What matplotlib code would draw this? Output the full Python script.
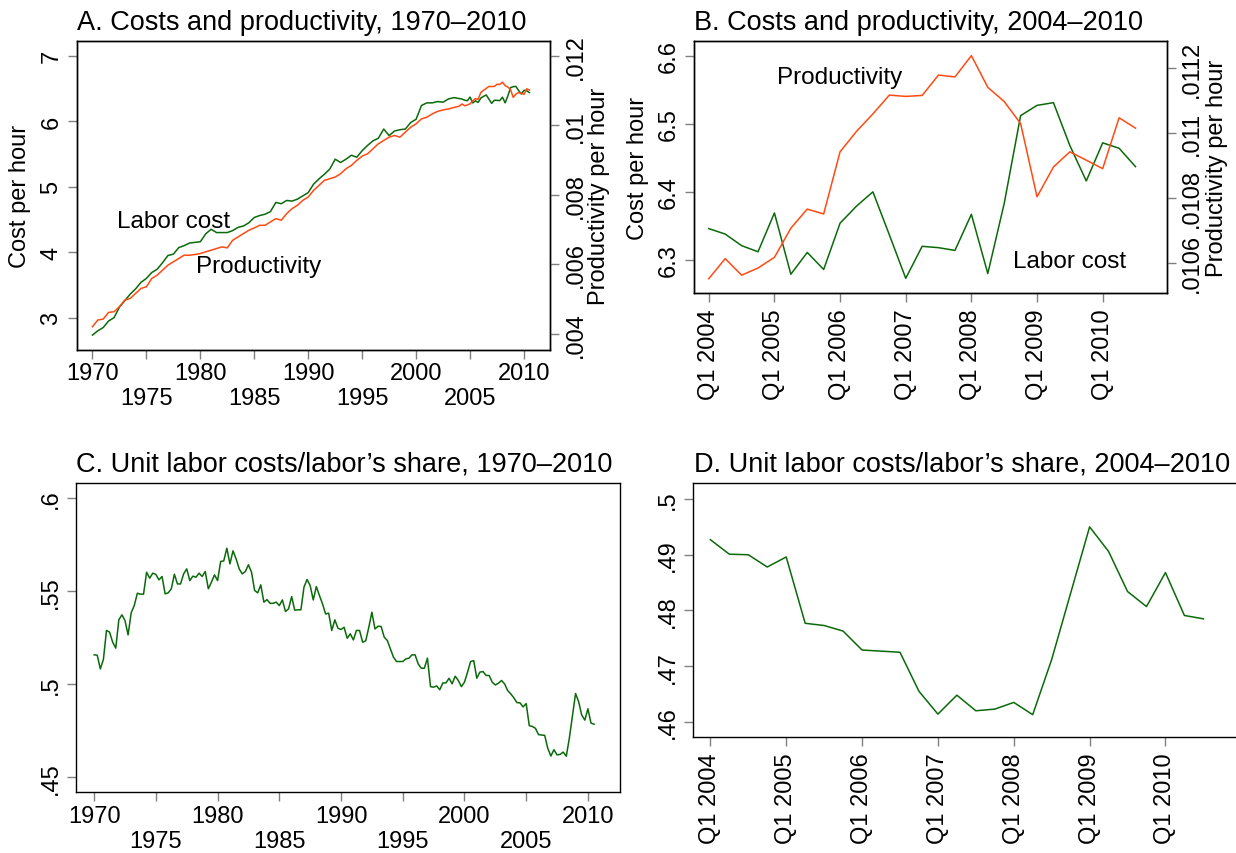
import numpy as np
import matplotlib
matplotlib.use('Agg')
import matplotlib.pyplot as plt

plt.rcParams['font.family'] = ['Liberation Sans', 'DejaVu Sans']

# ---------------- data ----------------
# Panel A: half-yearly readings 1970.0 .. 2003.5 (then quarterly from panel B data)
labor_cost_half = [2.735, 2.80, 2.85, 2.95, 3.00, 3.16, 3.26, 3.36, 3.44, 3.54,
                   3.60, 3.69, 3.74, 3.84, 3.95, 3.97, 4.07, 4.10, 4.14, 4.15,
                   4.16, 4.28, 4.35, 4.30, 4.30, 4.30, 4.33, 4.38, 4.40, 4.45,
                   4.53, 4.56, 4.58, 4.62, 4.76, 4.74, 4.79, 4.78, 4.81, 4.86,
                   4.91, 5.04, 5.12, 5.19, 5.27, 5.42, 5.37, 5.42, 5.48, 5.45,
                   5.55, 5.63, 5.70, 5.74, 5.88, 5.78, 5.85, 5.87, 5.88, 5.98,
                   6.03, 6.24, 6.28, 6.28, 6.30, 6.29, 6.34, 6.36]
productivity_half = [.004210, .004402, .004430, .004621, .004640, .004784, .004975, .005023,
                     .005166, .005310, .005357, .005596, .005692, .005835, .005979, .006074,
                     .006170, .006265, .006265, .006284, .006313, .006361, .006409, .006456,
                     .006504, .006476, .006695, .006791, .006887, .006982, .007049, .007125,
                     .007125, .007221, .007317, .007269, .007460, .007603, .007699, .007842,
                     .007938, .008129, .008273, .008416, .008464, .008511, .008607, .008750,
                     .008846, .008989, .009113, .009180, .009324, .009467, .009563, .009658,
                     .009706, .009658, .009802, .009945, .010041, .010184, .010232, .010327,
                     .010400, .010440, .010470, .010510]

# Quarterly 2004Q1 .. 2010Q3
quarter_labels = ['Q1 2004', 'Q1 2005', 'Q1 2006', 'Q1 2007', 'Q1 2008', 'Q1 2009', 'Q1 2010']
labor_cost_q = [6.346, 6.338, 6.321, 6.312, 6.369, 6.279, 6.311, 6.286, 6.354, 6.379,
                6.400, 6.337, 6.273, 6.320, 6.318, 6.314, 6.367, 6.280, 6.383, 6.512,
                6.527, 6.531, 6.468, 6.416, 6.472, 6.464, 6.437]
productivity_q = [.010550, .010612, .010561, .010583, .010616, .010706, .010765, .010750,
                  .010942, .011005, .011059, .011117, .011113, .011116, .011179, .011173,
                  .011239, .011141, .011097, .011029, .010803, .010895, .010942, .010916,
                  .010890, .011047, .011015]
labor_share_q = [.4927, .4901, .4900, .4878, .4896, .4777, .4773, .4763, .4729, .4727,
                 .4725, .4655, .4614, .4648, .4620, .4623, .4635, .4613, .4712, .4831,
                 .4950, .4906, .4834, .4807, .4868, .4791, .4785]

# Panel C: quarterly 1970Q1 .. 2003Q4 (then the 2004-2010 quarters above)
labor_share_early = [
    .5158, .5156, .5082, .5133, .5289, .5280, .5226, .5194, .5346, .5373, .5342, .5265,
    .5384, .5423, .5489, .5484, .5484, .5602, .5570, .5597, .5590, .5561, .5579, .5486,
    .5491, .5513, .5591, .5539, .5539, .5593, .5620, .5557, .5581, .5575, .5597, .5579,
    .5606, .5513, .5548, .5588, .5557, .5660, .5663, .5731, .5647, .5717, .5674, .5620,
    .5593, .5606, .5642, .5602, .5504, .5491, .5534, .5441, .5455, .5435, .5435, .5441,
    .5423, .5453, .5391, .5405, .5471, .5398, .5400, .5400, .5522, .5563, .5530, .5453,
    .5525, .5477, .5432, .5378, .5382, .5289, .5346, .5301, .5294, .5306, .5247, .5271,
    .5238, .5289, .5289, .5226, .5233, .5306, .5387, .5297, .5312, .5310, .5253, .5235,
    .5190, .5145, .5122, .5122, .5122, .5136, .5140, .5158, .5158, .5109, .5086, .5086,
    .5140, .4987, .4984, .4991, .4970, .5007, .5007, .5032, .5002, .5043, .5020, .4987,
    .5011, .5065, .5122, .5127, .5032, .5065, .5068, .5047, .5047, .5011, .4996, .5005,
    .5020, .5002, .4966, .4948]

year_ticks_major = [1970, 1980, 1990, 2000, 2010]
year_ticks_minor = [1975, 1985, 1995, 2005]

# ---------------- derived x positions ----------------
xq = 2004 + np.arange(len(labor_cost_q)) / 4.0
x_half = 1970 + np.arange(len(labor_cost_half)) / 2.0
xA = np.concatenate([x_half, xq])
laborA = np.concatenate([labor_cost_half, labor_cost_q])
prodA = np.concatenate([productivity_half, productivity_q])
x_early = 1970 + np.arange(len(labor_share_early)) / 4.0
xC = np.concatenate([x_early, xq])
shareC = np.concatenate([labor_share_early, labor_share_q])
qidx = np.arange(len(labor_cost_q))

# ---------------- figure ----------------
W, H = 1236, 854
fig = plt.figure(figsize=(W / 100, H / 100), dpi=100)


def axrect(l, t, r, b):
    return [l / W, 1 - b / H, (r - l) / W, (b - t) / H]


GREEN = '#0a6a0a'
ORANGE = '#ff4a12'
TICKC = '#808080'
FS_T = 19.5
FS = 17
FS_L = 17.5
LW = 1.1
TL = 6.5


def style(ax):
    for s in ax.spines.values():
        s.set_linewidth(1.0)
        s.set_color('black')
    ax.tick_params(which='both', direction='out', length=TL, width=1.0, color=TICKC,
                   labelsize=FS, labelcolor='black')


def ytick(ax, vals, labels, pad=4):
    ax.set_yticks(vals)
    ax.set_yticklabels(labels, rotation=90, va='center')
    ax.tick_params(axis='y', pad=pad)


def year_axis(ax):
    ax.set_xticks(year_ticks_major)
    ax.set_xticklabels([str(y) for y in year_ticks_major])
    ax.set_xticks(year_ticks_minor, minor=True)
    ax.set_xticklabels([str(y) for y in year_ticks_minor], minor=True)
    ax.tick_params(axis='x', which='major', pad=2.5)
    ax.tick_params(axis='x', which='minor', pad=20.5)


def quarter_axis(ax):
    ax.set_xticks(qidx[::4])
    ax.set_xticklabels(quarter_labels, rotation=90)
    ax.tick_params(axis='x', pad=4)
    ax.set_xlim(-0.9, 27.9)


def ftext(px, py, s, **kw):
    fig.text(px / W, 1 - py / H, s, **kw)


# ---- Panel A ----
axA = fig.add_axes(axrect(77, 41.7, 550, 351))
axA.plot(xA, laborA, color=GREEN, lw=LW)
axA.set_xlim(1968.57, 2012.41)
axA.set_ylim(2.507, 7.229)
style(axA)
year_axis(axA)
ytick(axA, [3, 4, 5, 6, 7], ['3', '4', '5', '6', '7'])
axA2 = axA.twinx()
axA2.plot(xA, prodA, color=ORANGE, lw=LW)
axA2.set_ylim(0.00354, 0.012431)
style(axA2)
ytick(axA2, [.004, .006, .008, .01, .012], ['.004', '.006', '.008', '.01', '.012'])
axA.text(1977.5, 4.48, 'Labor cost', fontsize=FS_L, ha='center', va='center')
axA.text(1985.4, 3.79, 'Productivity', fontsize=FS_L, ha='center', va='center')
ftext(302, 30, 'A. Costs and productivity, 1970\u20132010', fontsize=FS_T, ha='center', va='baseline')
ftext(20, 196, 'Cost per hour', fontsize=FS, rotation=90, ha='center', va='center')
ftext(599, 196, 'Productivity per hour', fontsize=FS, rotation=90, ha='center', va='center')

# ---- Panel B ----
axB = fig.add_axes(axrect(694, 41.7, 1166.7, 294.3))
axB.plot(qidx, labor_cost_q, color=GREEN, lw=LW)
axB.set_ylim(6.251, 6.622)
style(axB)
quarter_axis(axB)
ytick(axB, [6.3, 6.4, 6.5, 6.6], ['6.3', '6.4', '6.5', '6.6'])
axB2 = axB.twinx()
axB2.plot(qidx, productivity_q, color=ORANGE, lw=LW)
axB2.set_ylim(0.010505, 0.011285)
style(axB2)
ytick(axB2, [.0106, .0108, .011, .0112], ['.0106', '.0108', '.011', '.0112'])
axB.text(8.0, 6.568, 'Productivity', fontsize=FS_L, ha='center', va='center')
axB.text(22.0, 6.298, 'Labor cost', fontsize=FS_L, ha='center', va='center')
ftext(919, 30, 'B. Costs and productivity, 2004\u20132010', fontsize=FS_T, ha='center', va='baseline')
ftext(638, 168, 'Cost per hour', fontsize=FS, rotation=90, ha='center', va='center')
ftext(1217, 168, 'Productivity per hour', fontsize=FS, rotation=90, ha='center', va='center')

# ---- Panel C ----
axC = fig.add_axes(axrect(76, 484.3, 620, 793.3))
axC.plot(xC, shareC, color=GREEN, lw=LW)
axC.set_xlim(1968.53, 2012.6)
axC.set_ylim(0.4419, 0.608)
style(axC)
year_axis(axC)
ytick(axC, [.45, .5, .55, .6], ['.45', '.5', '.55', '.6'])
ftext(344, 472, 'C. Unit labor costs/labor\u2019s share, 1970\u20132010', fontsize=FS_T, ha='center', va='baseline')

# ---- Panel D ----
axD = fig.add_axes(axrect(693.3, 484.3, 1239.4, 738.3))
axD.plot(qidx, labor_share_q, color=GREEN, lw=LW)
axD.set_ylim(0.45724, 0.50282)
style(axD)
quarter_axis(axD)
ytick(axD, [.46, .47, .48, .49, .5], ['.46', '.47', '.48', '.49', '.5'])
ftext(962, 472, 'D. Unit labor costs/labor\u2019s share, 2004\u20132010', fontsize=FS_T, ha='center', va='baseline')

fig.savefig('out.png', dpi=100)
